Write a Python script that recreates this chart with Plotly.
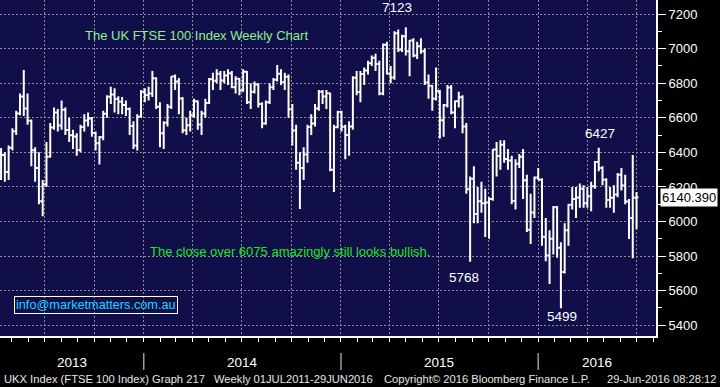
import pandas as pd
import plotly.graph_objects as go

# ---------------- data (weekly bars, Friday dates) ----------------
weeks = pd.date_range("2013-04-12", periods=169, freq="7D")

open_ = [
    6249, 6384, 6286, 6426, 6522, 6624, 6723, 6654, 6583, 6412, 6309, 6117, 6215, 6375, 6544, 6630,
    6555, 6647, 6529, 6499, 6492, 6413, 6547, 6584, 6596, 6512, 6453, 6487, 6623, 6721, 6734, 6708,
    6693, 6674, 6651, 6552, 6440, 6606,
    6751, 6731, 6740, 6829, 6663, 6510, 6571, 6663, 6838, 6810, 6712, 6528, 6557, 6615, 6695, 6561,
    6625, 6685, 6822, 6814, 6855, 6815, 6845, 6858, 6777, 6826, 6758, 6866, 6690, 6750, 6792, 6679,
    6567, 6689, 6776, 6820, 6855, 6806, 6837, 6649, 6527, 6340, 6310, 6388, 6546, 6567, 6654, 6750,
    6723, 6742, 6300, 6545,
    6633, 6548, 6501, 6550, 6832, 6749, 6853, 6873, 6915, 6947, 6911, 6741, 7022, 6855, 6833, 7089,
    6995, 7071, 6985, 7047, 6960, 7013, 6984, 6804, 6785, 6710, 6753, 6585, 6673, 6775, 6631, 6696,
    6719, 6550, 6187, 6247, 6043, 6117, 6105, 6110, 6130, 6416, 6379, 6444, 6361, 6353, 6118, 6334,
    6375, 6238, 5952, 6052,
    6254, 6242, 5912, 5804, 5900, 6083, 5848, 5708, 5950, 6097, 6130, 6139, 6189, 6106, 6146, 6204,
    6344, 6310, 6242, 6125, 6138, 6156, 6271, 6209, 6116, 6021, 6138,
]
high = [
    6425, 6400, 6440, 6540, 6640, 6740, 6876, 6740, 6590, 6430, 6400, 6240, 6460, 6570, 6660, 6650,
    6700, 6660, 6600, 6530, 6510, 6560, 6620, 6630, 6605, 6520, 6495, 6640, 6730, 6780, 6770, 6725,
    6720, 6700, 6660, 6580, 6620, 6760,
    6770, 6780, 6870, 6835, 6690, 6580, 6680, 6840, 6850, 6830, 6720, 6600, 6640, 6710, 6700, 6640,
    6710, 6830, 6860, 6880, 6870, 6870, 6880, 6870, 6840, 6830, 6880, 6870, 6800, 6810, 6800, 6690,
    6700, 6800, 6830, 6905, 6880, 6860, 6850, 6680, 6560, 6400, 6430, 6560, 6620, 6680, 6760, 6760,
    6760, 6745, 6560, 6640,
    6640, 6560, 6580, 6840, 6870, 6870, 6890, 6930, 6960, 6970, 6930, 7030, 7040, 6900, 7100, 7110,
    7080, 7123, 7050, 7060, 7040, 7060, 7000, 6850, 6790, 6890, 6760, 6680, 6790, 6790, 6700, 6750,
    6730, 6570, 6260, 6320, 6200, 6230, 6190, 6140, 6420, 6460, 6470, 6470, 6420, 6380, 6360, 6390,
    6420, 6270, 6160, 6260,
    6310, 6250, 6020, 5950, 6090, 6090, 5880, 5990, 6100, 6200, 6200, 6220, 6210, 6200, 6230, 6350,
    6427, 6320, 6250, 6200, 6210, 6280, 6310, 6270, 6130, 6384, 6170,
]
low = [
    6240, 6230, 6240, 6410, 6500, 6615, 6610, 6560, 6320, 6230, 6100, 6030, 6200, 6370, 6530, 6520,
    6530, 6500, 6460, 6420, 6380, 6400, 6520, 6550, 6490, 6410, 6330, 6470, 6600, 6680, 6630, 6620,
    6620, 6610, 6500, 6420, 6410, 6600,
    6690, 6700, 6720, 6650, 6430, 6420, 6550, 6650, 6760, 6620, 6510, 6500, 6520, 6600, 6530, 6500,
    6600, 6680, 6760, 6800, 6760, 6800, 6790, 6770, 6740, 6730, 6750, 6680, 6650, 6740, 6660, 6540,
    6560, 6680, 6760, 6810, 6790, 6760, 6600, 6440, 6300, 6073, 6240, 6340, 6500, 6550, 6640, 6680,
    6650, 6290, 6170, 6540,
    6520, 6360, 6380, 6530, 6730, 6690, 6790, 6850, 6900, 6870, 6730, 6730, 6850, 6800, 6820, 6980,
    6980, 6960, 6840, 6950, 6940, 6970, 6790, 6710, 6640, 6700, 6480, 6490, 6660, 6620, 6540, 6660,
    6510, 6160, 5768, 5990, 5990, 6050, 5910, 5900, 6120, 6260, 6300, 6340, 6300, 6100, 6070, 6310,
    6130, 5940, 5870, 6020,
    6240, 5860, 5770, 5639, 5810, 5790, 5499, 5700, 5860, 6070, 6020, 6080, 6080, 6080, 6060, 6190,
    6290, 6210, 6080, 6080, 6050, 6140, 6180, 6100, 5899, 5788, 5956,
]
close = [
    6384, 6286, 6426, 6522, 6624, 6723, 6654, 6583, 6412, 6309, 6117, 6215, 6375, 6544, 6630, 6555,
    6647, 6529, 6499, 6492, 6413, 6547, 6584, 6596, 6512, 6453, 6487, 6623, 6721, 6734, 6708, 6693,
    6674, 6651, 6552, 6440, 6606, 6751,
    6731, 6740, 6829, 6663, 6510, 6571, 6663, 6838, 6810, 6712, 6528, 6557, 6615, 6695, 6561, 6625,
    6685, 6822, 6814, 6855, 6815, 6845, 6858, 6777, 6826, 6758, 6866, 6690, 6750, 6792, 6679, 6567,
    6689, 6776, 6820, 6855, 6806, 6837, 6649, 6527, 6340, 6310, 6388, 6546, 6567, 6654, 6750, 6723,
    6742, 6300, 6545, 6633,
    6548, 6501, 6550, 6832, 6749, 6853, 6873, 6915, 6947, 6911, 6741, 7022, 6855, 6833, 7089, 6995,
    7071, 6985, 7047, 6960, 7013, 6984, 6804, 6785, 6710, 6753, 6585, 6673, 6775, 6631, 6696, 6719,
    6550, 6187, 6247, 6043, 6117, 6105, 6110, 6130, 6416, 6379, 6444, 6361, 6353, 6118, 6334, 6375,
    6238, 5952, 6052, 6254,
    6242, 5912, 5804, 5900, 6083, 5848, 5708, 5950, 6097, 6130, 6139, 6189, 6106, 6146, 6204, 6344,
    6310, 6242, 6125, 6138, 6156, 6271, 6209, 6116, 6021, 6138, 6140,
]

year_labels = ["2013", "2014", "2015", "2016"]
year_label_dates = ["2013-08-22", "2014-07-02", "2015-07-02", "2016-04-18"]
year_starts = ["2014-01-01", "2015-01-01", "2016-01-01"]

callout_texts = ["7123", "5768", "5499", "6427"]
callout_dates = ["2015-04-14", "2015-08-16", "2016-02-14", "2016-04-24"]
callout_levels = [7235, 5679, 5453, 6511]

last_price = 6140.39

title_text = "The UK FTSE 100 Index Weekly Chart"
comment_text = "The close over 6075 amazingly still looks bullish."
email_text = "info@marketmatters.com.au"
footer_texts = ["UKX Index (FTSE 100 Index) Graph 217",
                "Weekly 01JUL2011-29JUN2016",
                "Copyright\u00a9 2016 Bloomberg Finance L.P.",
                "29-Jun-2016 08:28:12"]

# ---------------- figure ----------------
FONT = "Liberation Sans, Arial, sans-serif"
GRID = "#8c8c8c"

fig = go.Figure(go.Ohlc(
    x=weeks, open=open_, high=high, low=low, close=close,
    increasing=dict(line=dict(color="white", width=2)),
    decreasing=dict(line=dict(color="white", width=2)),
    tickwidth=0.5, hoverinfo="skip",
))

fig.update_layout(
    width=720, height=387,
    margin=dict(l=0, r=64, t=0, b=51, autoexpand=False),
    paper_bgcolor="black", plot_bgcolor="#100f49",
    showlegend=False,
    font=dict(family=FONT, color="white"),
    xaxis=dict(
        type="date", range=["2013-04-10", "2016-08-06"],
        rangeslider=dict(visible=False),
        showgrid=True, gridcolor=GRID, griddash="2px,2px", gridwidth=1,
        dtick="M3", tick0="2013-01-01",
        ticks="outside", ticklen=4, tickcolor="white",
        showticklabels=False,
        showline=True, linecolor="white", linewidth=2,
        minor=dict(dtick="M1", tick0="2013-01-01", ticks="outside",
                   ticklen=4, tickcolor="white", showgrid=False),
        zeroline=False,
    ),
    yaxis=dict(
        side="right", range=[5338, 7281],
        dtick=200, tick0=5400,
        showgrid=True, gridcolor=GRID, griddash="2px,2px", gridwidth=1,
        ticks="outside", ticklen=8, tickcolor="white", tickwidth=1,
        tickfont=dict(color="white", size=13, family=FONT),
        showline=True, linecolor="white", linewidth=2,
        minor=dict(dtick=100, tick0=5400, ticks="outside", ticklen=4,
                   tickcolor="white", showgrid=False),
        zeroline=False,
    ),
)

ann = []
# chart title and comment
ann.append(dict(text=title_text, xref="paper", yref="paper", x=83 / 656, y=(336 - 36) / 336,
                xanchor="left", yanchor="middle", showarrow=False,
                font=dict(color="#8ef08e", size=13, family=FONT)))
ann.append(dict(text=comment_text, xref="paper", yref="paper", x=148 / 656, y=(336 - 251) / 336,
                xanchor="left", yanchor="middle", showarrow=False,
                font=dict(color="#1ee61e", size=13, family=FONT)))
ann.append(dict(text=email_text, xref="paper", yref="paper", x=14 / 656, y=(336 - 304.5) / 336,
                xanchor="left", yanchor="middle", showarrow=False,
                bordercolor="white", borderwidth=1, borderpad=1,
                font=dict(color="#19d6ff", size=12.7, family=FONT)))
# callouts
for t, d, v in zip(callout_texts, callout_dates, callout_levels):
    ann.append(dict(text=t, x=d, y=v, xref="x", yref="y", showarrow=False,
                    xanchor="center", yanchor="middle",
                    font=dict(color="white", size=13.5, family=FONT)))
# last price box
ann.append(dict(text="6140.390", xref="paper", yref="y", x=1, y=last_price,
                xanchor="left", yanchor="middle", xshift=4, showarrow=False,
                bgcolor="white", borderpad=1,
                font=dict(color="black", size=13, family=FONT)))
# year labels
for t, d in zip(year_labels, year_label_dates):
    ann.append(dict(text=t, x=d, y=(336 - 362) / 336, xref="x", yref="paper",
                    showarrow=False, xanchor="center", yanchor="middle",
                    font=dict(color="white", size=13.5, family=FONT)))
# footer
foot_x = [2 / 656, 212 / 656, 382 / 656, 718 / 656]
foot_anchor = ["left", "left", "left", "right"]
for t, fx, xa in zip(footer_texts, foot_x, foot_anchor):
    ann.append(dict(text=t, x=fx, y=(336 - 379) / 336, xref="paper", yref="paper",
                    showarrow=False, xanchor=xa, yanchor="middle",
                    font=dict(color="#e6e6e6", size=11.2, family=FONT)))
fig.update_layout(annotations=ann)

shapes = []
for d in year_starts:
    shapes.append(dict(type="line", xref="x", yref="paper", x0=d, x1=d,
                       y0=(336 - 353) / 336, y1=(336 - 370) / 336,
                       line=dict(color="#9a9a9a", width=1.5)))
fig.update_layout(shapes=shapes)

fig.write_html(
    "out.html",
    config={"displayModeBar": False, "staticPlot": True},
    post_script="document.body.style.margin='0';document.body.style.overflow='hidden';",
)
